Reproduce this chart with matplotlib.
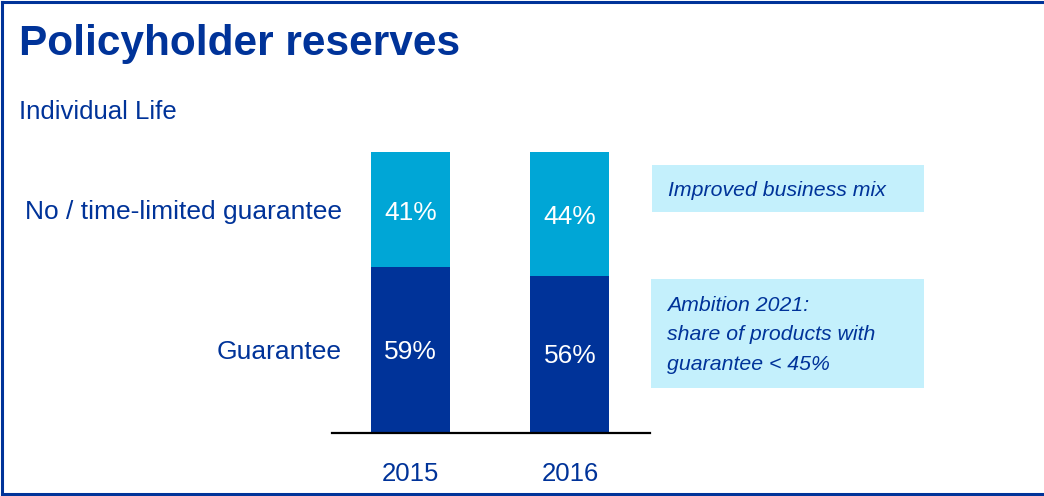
import matplotlib.pyplot as plt
from matplotlib.patches import Rectangle
from matplotlib.lines import Line2D

W, H = 1044, 496
DARK = "#003399"
LIGHT = "#00A6D6"
BOX = "#C4F0FC"

years = ["2015", "2016"]
guarantee = [59, 56]
no_guarantee = [41, 44]
row_labels = ["No / time-limited guarantee", "Guarantee"]
notes = ["Improved business mix", "Ambition 2021:\nshare of products with\nguarantee < 45%"]

plt.rcParams["font.family"] = ["Liberation Sans", "DejaVu Sans"]


def fx(x):
    return x / W


def fy(y):
    return 1 - y / H


fig = plt.figure(figsize=(W / 100, H / 100), dpi=100)

# frame (left, top, bottom)
for xs, ys in [((2, 2), (2, 494)), ((2, W), (2, 2)), ((2, W), (494, 494))]:
    fig.add_artist(Line2D([fx(v) for v in xs], [fy(v) for v in ys], color=DARK, lw=2.2))

fig.text(fx(19), fy(44), "Policyholder reserves", fontsize=30.5, fontweight="bold", color=DARK, va="center")
fig.text(fx(19), fy(112), "Individual Life", fontsize=18.5, color=DARK, va="center")

# bar axes: spans x 332..650 px, y 152..433 px
ax = fig.add_axes([fx(332), fy(433), fx(650 - 332), (433 - 152) / H])
x = list(range(len(years)))
g = [v / 100 for v in guarantee]
n = [v / 100 for v in no_guarantee]
ax.bar(x, g, width=0.495, color=DARK)
ax.bar(x, n, bottom=g, width=0.495, color=LIGHT)
for i in x:
    ax.text(i, g[i] / 2 - 0.005, f"{guarantee[i]}%", ha="center", va="center", color="white", fontsize=19)
    ax.text(i, g[i] + n[i] / 2 - 0.012, f"{no_guarantee[i]}%", ha="center", va="center", color="white", fontsize=19)
ax.set_xlim(-0.492, 1.502)
ax.set_ylim(0, 1)
for s in ["top", "right", "left"]:
    ax.spines[s].set_visible(False)
ax.spines["bottom"].set_color("black")
ax.spines["bottom"].set_linewidth(1.6)
ax.set_yticks([])
ax.set_xticks(x, years)
ax.tick_params(axis="x", length=0, pad=21, labelsize=18.5, labelcolor=DARK)

fig.text(fx(342), fy(212), row_labels[0], fontsize=19, color=DARK, ha="right", va="center")
fig.text(fx(342), fy(352), row_labels[1], fontsize=19, color=DARK, ha="right", va="center")

# note boxes
fig.add_artist(Rectangle((fx(652), fy(212)), fx(924 - 652), (212 - 165) / H, color=BOX, lw=0))
fig.add_artist(Rectangle((fx(651), fy(388)), fx(924 - 651), (388 - 279) / H, color=BOX, lw=0))
fig.text(fx(668), fy(190), notes[0], fontsize=15.3, style="italic", color=DARK, va="center")
fig.text(fx(667), fy(335), notes[1], fontsize=15.3, style="italic", color=DARK, va="center", linespacing=1.7)

fig.savefig("out.png", dpi=100)
